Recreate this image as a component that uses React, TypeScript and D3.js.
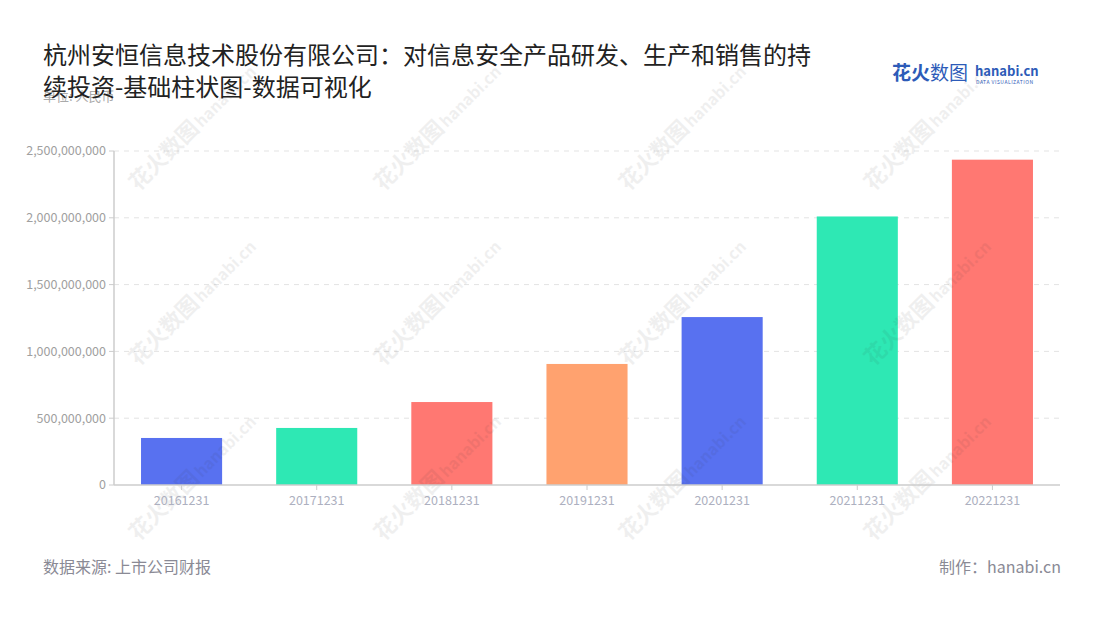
import React from "react";
import * as d3 from "d3";

const categories = ["20161231", "20171231", "20181231", "20191231", "20201231", "20211231", "20221231"];
const values = [352000000, 427000000, 621000000, 906000000, 1257000000, 2010000000, 2435000000];
const barColors = ["#5871f0", "#2ee8b4", "#ff7872", "#ffa26f", "#5871f0", "#2ee8b4", "#ff7872"];
const yTicks = [0, 500000000, 1000000000, 1500000000, 2000000000, 2500000000];

const titleLines = ["杭州安恒信息技术股份有限公司：对信息安全产品研发、生产和销售的持", "续投资-基础柱状图-数据可视化"];

const W = 1100, H = 620;
const M = { left: 114, right: 1060, top: 151, bottom: 485 };

export default function App() {
  const x = d3.scaleBand<string>().domain(categories).range([M.left, M.right]).paddingInner(0.4).paddingOuter(0.2);
  const y = d3.scaleLinear().domain([0, 2500000000]).range([M.bottom, M.top]);
  const fmt = d3.format(",");
  const font = "'Noto Sans CJK SC', 'Noto Sans', sans-serif";

  const wm: [number, number][] = [];
  for (let r = 0; r < 3; r++) {
    for (let c = 0; c < 4; c++) {
      wm.push([170 + c * 245, 160 + r * 175]);
    }
  }

  return (
    <svg width={W} height={H} style={{ position: "absolute", left: 0, top: 0, fontFamily: font }}>
      <rect width={W} height={H} fill="#fff" />
      {yTicks.slice(1).map((t) => (
        <line key={t} x1={M.left} x2={M.right} y1={y(t)} y2={y(t)} stroke="#e3e3e3" strokeDasharray="5,5" />
      ))}
      {categories.map((c, i) => (
        <rect key={c} x={x(c)} y={y(values[i])} width={x.bandwidth()} height={y(0) - y(values[i])} fill={barColors[i]} />
      ))}
      {wm.map(([wx, wy], i) => (
        <g key={i} transform={`translate(${wx},${wy}) rotate(-45)`} opacity={0.07}>
          <text x={-45} y={0} fontSize={22} fontWeight={700} fill="#333">花火数图</text>
          <text x={45} y={0} fontSize={16} fontWeight={700} fill="#333">hanabi.cn</text>
        </g>
      ))}
      <line x1={M.left} x2={M.left} y1={M.top} y2={M.bottom} stroke="#ccc" strokeWidth={1.5} />
      {yTicks.map((t) => (
        <g key={t}>
          <line x1={M.left - 5} x2={M.left} y1={y(t)} y2={y(t)} stroke="#ccc" />
          <text x={M.left - 8} y={y(t)} dy="0.35em" textAnchor="end" fontSize={12.5} fill="#a0a0a0">{fmt(t)}</text>
        </g>
      ))}
      <line x1={M.left} x2={M.right} y1={M.bottom} y2={M.bottom} stroke="#ccc" strokeWidth={1.5} />
      {categories.map((c) => (
        <g key={c}>
          <line x1={x(c)! + x.bandwidth() / 2} x2={x(c)! + x.bandwidth() / 2} y1={M.bottom} y2={M.bottom + 5} stroke="#ccc" />
          <text x={x(c)! + x.bandwidth() / 2} y={M.bottom + 20} textAnchor="middle" fontSize={12.5} fill="#adb0c0">{c}</text>
        </g>
      ))}
      <text x={43} y={101} fontSize={13} fill="#aaa">单位: 人民币</text>
      {titleLines.map((l, i) => (
        <text key={i} x={43} y={64 + i * 32} fontSize={24} fill="#222">{l}</text>
      ))}
      <text x={892} y={80} fontSize={19} fontWeight={700} fill="#2d5bb8">花火</text>
      <text x={930} y={80} fontSize={19} fill="#2d5bb8">数图</text>
      <text x={975} y={76} fontSize={13} fontWeight={700} fill="#2d5bb8">hanabi.cn</text>
      <text x={976} y={84} fontSize={5} fill="#2d5bb8" letterSpacing={0.5}>DATA VISUALIZATION</text>
      <text x={43} y={573} fontSize={16} fill="#8a8a95">数据来源: 上市公司财报</text>
      <text x={1061} y={573} fontSize={16} fill="#8a8a95" textAnchor="end">制作：hanabi.cn</text>
    </svg>
  );
}
